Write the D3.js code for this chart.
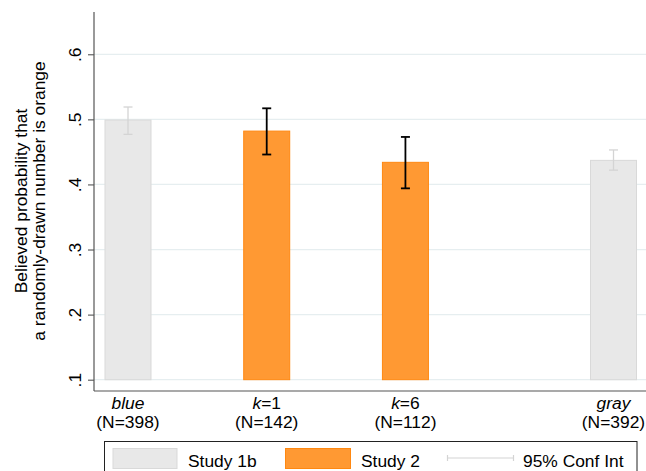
<!DOCTYPE html>
<html><head><meta charset="utf-8">
<script src="https://cdn.jsdelivr.net/npm/d3@7"></script>
<style>body{margin:0;background:#fff}svg{display:block;font-family:"Liberation Sans",Arial,sans-serif}</style>
</head><body><svg id="c" width="646" height="471"></svg>
<script>
const categories = ["blue", "k=1", "k=6", "gray"];
const catPrefix = ["blue", "k", "k", "gray"];
const catSuffix = ["", "=1", "=6", ""];
const nLabels = ["(N=398)", "(N=142)", "(N=112)", "(N=392)"];
const positions = [0, 1, 2, 3.5];
const study = ["Study 1b", "Study 2", "Study 2", "Study 1b"];
const means = [0.499, 0.482, 0.434, 0.437];
const ciLow = [0.477, 0.446, 0.394, 0.422];
const ciHigh = [0.519, 0.517, 0.473, 0.453];
const yTicks = [0.1, 0.2, 0.3, 0.4, 0.5, 0.6];
const yTickLabels = [".1", ".2", ".3", ".4", ".5", ".6"];
const legendLabels = ["Study 1b", "Study 2", "95% Conf Int"];

const FS = 17.4;
const svg = d3.select("#c");
const pLeft = 94, pRight = 646, pTop = 12, pBottom = 391;
const y = d3.scaleLinear().domain([0.0826, 0.665]).range([pBottom, pTop]);
const x = d3.scaleLinear().domain([0, 3.5]).range([128, 613.5]);
const barW = 46;
const fill = {"Study 1b": "#e8e8e8", "Study 2": "#ff9933"};
const stroke = {"Study 1b": "#d9d9d9", "Study 2": "#ff8811"};
const ciCol = {"Study 1b": "#d4d4d4", "Study 2": "#000"};

// gridlines
svg.append("g").selectAll("line").data(yTicks).join("line")
  .attr("x1", pLeft).attr("x2", pRight)
  .attr("y1", d => y(d)).attr("y2", d => y(d))
  .attr("stroke", "#e6eef0").attr("stroke-width", 1.2);

// y axis
const yAxis = d3.axisLeft(y).tickValues(yTicks).tickFormat((d, i) => yTickLabels[i]).tickSize(6).tickSizeOuter(0);
const gy = svg.append("g").attr("transform", `translate(${pLeft},0)`).call(yAxis);
gy.select(".domain").remove();
gy.selectAll(".tick line").attr("stroke", "#444");
gy.selectAll(".tick text").attr("font-size", FS).attr("fill", "#000")
  .attr("font-family", "Liberation Sans, Arial, sans-serif")
  .attr("text-anchor", "middle")
  .attr("transform", "translate(-13,0) rotate(-90)")
  .attr("x", 0).attr("y", 0).attr("dy", 0);
svg.append("line").attr("x1", pLeft).attr("x2", pLeft).attr("y1", pTop).attr("y2", pBottom).attr("stroke", "#555").attr("stroke-width", 1.2);
svg.append("line").attr("x1", pLeft).attr("x2", pRight).attr("y1", pBottom).attr("y2", pBottom).attr("stroke", "#555").attr("stroke-width", 1.2);

// bars
svg.append("g").selectAll("rect").data(means).join("rect")
  .attr("x", (d, i) => x(positions[i]) - barW / 2)
  .attr("width", barW)
  .attr("y", d => y(d))
  .attr("height", d => y(0.1) - y(d))
  .attr("fill", (d, i) => fill[study[i]])
  .attr("stroke", (d, i) => stroke[study[i]]).attr("stroke-width", 1);

// CIs
const ci = svg.append("g");
means.forEach((m, i) => {
  const cx = x(positions[i]), c = ciCol[study[i]], w = study[i] === "Study 2" ? 1.8 : 1.3;
  ci.append("line").attr("x1", cx).attr("x2", cx).attr("y1", y(ciLow[i])).attr("y2", y(ciHigh[i])).attr("stroke", c).attr("stroke-width", w);
  [ciLow[i], ciHigh[i]].forEach(v => ci.append("line").attr("x1", cx - 4.5).attr("x2", cx + 4.5).attr("y1", y(v)).attr("y2", y(v)).attr("stroke", c).attr("stroke-width", w));
});

// x labels
categories.forEach((c, i) => {
  const t = svg.append("text").attr("x", x(positions[i])).attr("y", 408.5).attr("text-anchor", "middle").attr("font-size", FS);
  t.append("tspan").attr("font-style", "italic").text(catPrefix[i]);
  if (catSuffix[i]) t.append("tspan").text(catSuffix[i]);
  svg.append("text").attr("x", x(positions[i])).attr("y", 428).attr("text-anchor", "middle").attr("font-size", FS).text(nLabels[i]);
});

// y title
const yt = svg.append("text").attr("transform", "translate(0,201) rotate(-90)").attr("text-anchor", "middle").attr("font-size", FS);
yt.append("tspan").attr("x", 0).attr("y", 26.5).text("Believed probability that");
yt.append("tspan").attr("x", 0).attr("y", 45).text("a randomly-drawn number is orange");

// legend
svg.append("rect").attr("x", 104.5).attr("y", 441.5).attr("width", 532.5).attr("height", 40).attr("fill", "#fff").attr("stroke", "#222").attr("stroke-width", 1);
const lg = svg.append("g");
lg.append("rect").attr("x", 113).attr("y", 448.5).attr("width", 64).attr("height", 20).attr("fill", fill["Study 1b"]).attr("stroke", stroke["Study 1b"]);
lg.append("text").attr("x", 188).attr("y", 466.5).attr("font-size", FS).text(legendLabels[0]);
lg.append("rect").attr("x", 285.5).attr("y", 448.5).attr("width", 65).attr("height", 20).attr("fill", fill["Study 2"]).attr("stroke", stroke["Study 2"]);
lg.append("text").attr("x", 361).attr("y", 466.5).attr("font-size", FS).text(legendLabels[1]);
lg.append("line").attr("x1", 447.5).attr("x2", 513.5).attr("y1", 458).attr("y2", 458).attr("stroke", "#d4d4d4").attr("stroke-width", 1.2);
[447.5, 513.5].forEach(xx => lg.append("line").attr("x1", xx).attr("x2", xx).attr("y1", 455).attr("y2", 461).attr("stroke", "#d4d4d4").attr("stroke-width", 1.2));
lg.append("text").attr("x", 523).attr("y", 466.5).attr("font-size", FS).text(legendLabels[2]);
</script></body></html>
